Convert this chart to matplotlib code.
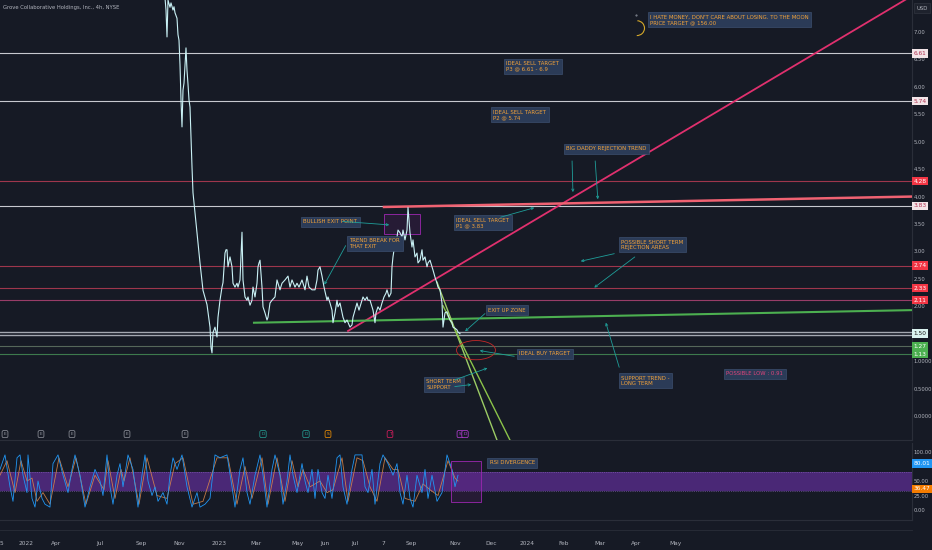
import matplotlib.pyplot as plt
from matplotlib.patches import Rectangle, Ellipse, Arc
from matplotlib.transforms import blended_transform_factory

plt.rcParams['font.family'] = ['Liberation Sans Narrow', 'DejaVu Sans']

# price (bar index -> close)
price_t = [163, 165, 166, 167, 168, 170, 171, 173, 174, 175, 177, 178, 179, 180, 181, 182, 183, 184,
           186, 187, 188, 189, 190, 192, 193, 195, 197, 200, 203, 207, 210, 211, 212, 213, 215, 217,
           218, 220, 222, 223, 225, 226, 227, 228, 230, 232, 233, 235, 237, 238, 240, 242, 243, 245,
           247, 248, 250, 252, 253, 255, 257, 258, 259, 260, 262, 263, 265, 267, 268, 270, 272, 275,
           277, 280, 282, 285, 288, 290, 292, 295, 297, 299, 302, 305, 307, 309, 312, 315, 317, 318,
           320, 322, 324, 327, 328, 330, 332, 333, 335, 337, 338, 340, 342, 343, 345, 347, 350, 352,
           353, 355, 357, 359, 362, 363, 365, 367, 368, 370, 372, 373, 375, 376, 378, 380, 382, 384,
           386, 387, 389, 391, 392, 393, 395, 397, 398, 400, 402, 403, 405, 407, 408, 410, 412, 413,
           415, 417, 418, 420, 422, 423, 425, 427, 428, 430, 432, 433, 435, 437, 438, 440, 442, 443,
           445, 447, 448, 450, 452, 453, 455, 457, 458, 460]
price_v = [7.80, 7.62, 7.40, 6.91, 7.58, 7.45, 7.53, 7.40, 7.46, 7.35, 7.25, 6.95, 6.85, 6.40, 5.76, 5.27, 5.94, 6.07,
           6.71, 6.30, 6.05, 5.76, 5.63, 4.54, 4.07, 3.70, 3.34, 2.79, 2.29, 2.03, 1.62, 1.25, 1.15, 1.52, 1.62, 1.44,
           1.80, 2.11, 2.35, 2.43, 2.97, 3.03, 3.03, 2.72, 2.90, 2.72, 2.42, 2.35, 2.42, 2.35, 2.48, 3.35, 2.48, 2.17,
           2.11, 2.17, 2.02, 2.11, 2.35, 2.17, 2.42, 2.72, 2.79, 2.84, 2.35, 1.99, 1.88, 1.75, 1.80, 2.06, 2.11, 2.17,
           2.48, 2.30, 2.42, 2.48, 2.55, 2.35, 2.48, 2.35, 2.42, 2.35, 2.48, 2.30, 2.55, 2.35, 2.30, 2.30, 2.48, 2.66,
           2.72, 2.55, 2.35, 2.11, 2.17, 2.06, 1.93, 1.70, 1.88, 2.11, 1.99, 2.06, 1.88, 1.80, 1.70, 1.75, 1.62, 1.66,
           1.80, 1.93, 2.06, 1.93, 2.11, 2.17, 2.11, 2.17, 2.11, 2.11, 1.99, 1.93, 1.70, 1.88, 1.99, 1.93, 2.06, 2.17,
           2.24, 2.30, 2.17, 2.24, 2.72, 2.90, 3.15, 3.26, 3.39, 3.34, 3.26, 3.39, 3.21, 3.39, 3.80, 3.34, 3.08, 3.21,
           2.90, 2.97, 2.79, 2.84, 3.03, 2.84, 2.90, 2.72, 2.79, 2.84, 2.72, 2.66, 2.53, 2.42, 2.35, 2.30, 2.06, 1.62,
           1.88, 1.90, 1.84, 1.75, 1.70, 1.62, 1.60, 1.57, 1.53, 1.50]

levels = [6.61, 5.74, 4.28, 3.83, 2.74, 2.33, 2.11, 1.50, 1.27, 1.13]
level_labels = ['6.61', '5.74', '4.28', '3.83', '2.74', '2.33', '2.11', '1.50', '1.27', '1.13']

# drawn trend lines (two anchor points each)
rise_t, rise_v = [348, 912], [1.55, 7.66]
resist_t, resist_v = [384, 912], [3.81, 4.00]
support_t, support_v = [254, 912], [1.70, 1.93]
fall1_t, fall1_v = [437, 497], [2.44, -0.44]
fall2_t, fall2_v = [443, 510], [2.01, -0.44]

price_ticks = [7.0, 6.5, 6.0, 5.5, 5.0, 4.5, 4.0, 3.5, 3.0, 2.5, 2.0, 1.0, 0.5, 0.0]
price_tick_labels = ['7.00', '6.50', '6.00', '5.50', '5.00', '4.50', '4.00', '3.50', '3.00',
                     '2.50', '2.00', '1.0000', '0.5000', '0.0000']

time_ticks = [1, 26, 56, 100, 141, 179, 219, 256, 298, 325, 355, 383, 411, 455, 491, 527, 564, 600, 636, 675]
time_labels = ['5', '2022', 'Apr', 'Jul', 'Sep', 'Nov', '2023', 'Mar', 'May', 'Jun', 'Jul', '7',
               'Sep', 'Nov', 'Dec', '2024', 'Feb', 'Mar', 'Apr', 'May']

# stoch rsi, K and D
k_t = [0, 5, 10, 13, 17, 20, 23, 27, 28, 32, 35, 38, 42, 45, 50, 53, 58, 63, 68, 72, 75, 80, 85, 90,
       95, 100, 103, 107, 110, 113, 117, 120, 123, 128, 133, 138, 142, 145, 148, 152, 155, 158, 163,
       167, 170, 173, 177, 182, 187, 192, 197, 200, 205, 210, 215, 220, 227, 232, 235, 240, 243, 247,
       250, 255, 260, 263, 267, 272, 275, 280, 283, 287, 290, 293, 297, 302, 305, 308, 312, 315, 318,
       322, 325, 328, 332, 337, 340, 343, 347, 352, 355, 362, 365, 368, 372, 375, 380, 383, 388, 393,
       397, 400, 403, 407, 410, 413, 417, 422, 425, 428, 432, 437, 442, 447, 452, 455, 458]
k_v = [70, 95, 40, 15, 90, 95, 60, 30, 95, 20, 5, 50, 20, 10, 5, 80, 95, 60, 30, 70, 95, 60, 5, 40,
       70, 50, 25, 95, 40, 10, 60, 80, 40, 95, 70, 5, 60, 95, 50, 25, 40, 15, 30,
       10, 60, 90, 70, 95, 40, 5, 30, 5, 10, 20, 95, 90, 95, 40, 5, 70, 90, 30,
       10, 60, 95, 60, 5, 70, 95, 60, 10, 50, 95, 60, 30, 80, 50, 30, 70, 20, 70,
       30, 20, 60, 20, 90, 95, 40, 10, 70, 95, 95, 40, 30, 70, 10, 80, 95, 80, 60,
       80, 30, 10, 60, 20, 5, 60, 30, 70, 20, 60, 15, 30, 95, 70, 40, 60]
d_t = [0, 7, 15, 21, 27, 32, 37, 43, 50, 59, 68, 76, 86, 95, 104, 108, 115, 121, 124, 130, 139, 147,
       157, 167, 175, 183, 193, 203, 217, 228, 237, 245, 252, 262, 268, 277, 285, 292, 298, 303, 310,
       320, 327, 333, 342, 348, 357, 363, 370, 377, 385, 393, 398, 405, 415, 423, 430, 438, 448, 455, 458]
d_v = [60, 85, 30, 85, 50, 55, 15, 30, 10, 90, 40, 90, 10, 60, 35, 85, 20, 70, 50, 90, 10, 90,
       25, 20, 80, 90, 10, 15, 90, 90, 10, 75, 20, 90, 10, 90, 15, 85, 40, 70, 40,
       50, 30, 35, 90, 15, 90, 85, 40, 15, 90, 70, 70, 20, 15, 45, 35, 25, 85, 55, 50]
rsi_ticks = [100, 50, 25, 0]
rsi_tick_labels = ['100.00', '50.00', '25.00', '0.00']
k_last, d_last = 80.01, 36.47

# chart event markers (earnings, dividends, splits...)
event_t = [5, 41, 72, 127, 185, 263, 306, 328, 390, 460, 465]
event_kind = ['E', 'E', 'E', 'E', 'E', 'D', 'D', 'S', 'T', 'S', 'D']

bg = '#161a25'
grid = '#2a2e39'
ann_fc = '#2b3b57'
ann_ec = '#43587a'
ann_txt = '#f2a23a'
teal = '#1f9e99'
fs_note = 3.9
fs_axis = 3.8

fig = plt.figure(figsize=(9.32, 5.5), dpi=100, facecolor=bg)
W = 912 / 932
ax = fig.add_axes([0, 1 - 440 / 550, W, 440 / 550], facecolor=bg)
ax2 = fig.add_axes([0, 1 - 520 / 550, W, 77 / 550], facecolor=bg)

ax.set_xlim(0, 912)
ax.set_ylim(-0.4375, 7.583)
ax2.set_xlim(0, 912)
ax2.set_ylim(-17.2, 115.5)

for a in (ax, ax2):
    for s in a.spines.values():
        s.set_visible(False)
    a.spines['right'].set_visible(True)
    a.spines['right'].set_color(grid)
    a.spines['bottom'].set_visible(True)
    a.spines['bottom'].set_color(grid)

ax.set_xticks([])
ax.yaxis.tick_right()
ax.set_yticks(price_ticks, price_tick_labels)
ax.tick_params(axis='y', length=0, pad=1.2, labelsize=fs_axis, labelcolor='#b2b5be')

ax2.yaxis.tick_right()
ax2.set_yticks(rsi_ticks, rsi_tick_labels)
ax2.tick_params(axis='y', length=0, pad=1.2, labelsize=fs_axis, labelcolor='#b2b5be')
ax2.set_xticks(time_ticks, time_labels)
ax2.tick_params(axis='x', length=0, pad=15, labelsize=4.2, labelcolor='#b2b5be')

# horizontal price levels
level_colors = ['#c7c9cf', '#c7c9cf', '#9e364c', '#c7c9cf', '#9e364c', '#9e364c', '#983d68',
                '#a4a8b1', '#55675a', '#3d7a4d']
box_fc = ['#f2e4e7', '#f2e4e7', '#f23645', '#f2e4e7', '#f23645', '#f23645', '#f23645',
          '#d9f2ef', '#4caf50', '#4caf50']
box_tc = ['#b03050', '#b03050', 'white', '#b03050', 'white', 'white', 'white', '#1a1a1a', 'white', 'white']
yt = blended_transform_factory(ax.transAxes, ax.transData)
for i, lv in enumerate(levels):
    if level_labels[i] == '1.50':
        ax.axhline(lv + 0.025, color=level_colors[i], lw=1.0, zorder=2)
        ax.axhline(lv - 0.025, color=level_colors[i], lw=1.0, zorder=2)
    else:
        ax.axhline(lv, color=level_colors[i], lw=0.8, zorder=2)
    ax.text(1.0015, lv, level_labels[i], transform=yt, fontsize=4.2, color=box_tc[i],
            ha='left', va='center', clip_on=False, zorder=10,
            bbox=dict(boxstyle='square,pad=0.3', fc=box_fc[i], ec='none'))

# trend lines
ax.plot(rise_t, rise_v, color='#e0306e', lw=1.3, zorder=3)
ax.plot(resist_t, resist_v, color='#f06272', lw=1.8, zorder=3)
ax.plot(support_t, support_v, color='#4caf50', lw=1.5, zorder=3)
ax.plot(fall1_t, fall1_v, color='#9ccc65', lw=1.0, zorder=3)
ax.plot(fall2_t, fall2_v, color='#8bc34a', lw=1.0, zorder=3)

# price
ax.plot(price_t, price_v, color='#c9f1f5', lw=0.8, zorder=4)

# drawings
ax.add_patch(Rectangle((384, 3.32), 36, 0.36, fc='#9c27b0', alpha=0.12, ec='none', zorder=2))
ax.add_patch(Rectangle((384, 3.32), 36, 0.36, fill=False, ec='#9c27b0', lw=0.6, zorder=2))
ax.add_patch(Ellipse((476, 1.20), 39, 0.35, fill=False, ec='#c62828', lw=0.6, zorder=5))
ax.add_patch(Arc((637, 7.07), 15, 0.27, theta1=-150, theta2=20, color='#d4a82a', lw=0.8))
ax.plot([636], [7.31], marker='.', ms=1, color='#8a8f9a')


def note(t, v, s, color=ann_txt):
    ax.text(t + 2.4, v - 0.044, s, fontsize=fs_note, color=color, ha='left', va='top', linespacing=1.1,
            zorder=6, bbox=dict(boxstyle='square,pad=0.45', fc=ann_fc, ec=ann_ec, lw=0.4))


def arrow(t0, v0, t1, v1):
    ax.annotate('', xy=(t1, v1), xytext=(t0, v0), zorder=6,
                arrowprops=dict(arrowstyle='->', color=teal, lw=0.6, mutation_scale=4))


note(648, 7.36, "I HATE MONEY, DON'T CARE ABOUT LOSING. TO THE MOON\nPRICE TARGET @ 156.00")
note(504, 6.51, 'IDEAL SELL TARGET\nP3 @ 6.61 - 6.9')
note(491, 5.63, 'IDEAL SELL TARGET\nP2 @ 5.74')
note(564, 4.96, 'BIG DADDY REJECTION TREND')
note(454, 3.66, 'IDEAL SELL TARGET\nP1 @ 3.83')
note(301, 3.63, 'BULLISH EXIT POINT')
note(347, 3.28, 'TREND BREAK FOR\nTHAT EXIT')
note(486, 2.02, 'EXIT UP ZONE')
note(517, 1.22, 'IDEAL BUY TARGET')
note(424, 0.71, 'SHORT TERM\nSUPPORT')
note(619, 3.26, 'POSSIBLE SHORT TERM\nREJECTION AREAS')
note(619, 0.78, 'SUPPORT TREND -\nLONG TERM')
note(724, 0.86, 'POSSIBLE LOW : 0.91', color='#e0457b')

arrow(572, 4.70, 573, 4.03)
arrow(595, 4.70, 598, 3.90)
arrow(498, 3.61, 537, 3.81)
arrow(340, 3.55, 392, 3.48)
arrow(347, 3.15, 323, 2.35)
arrow(487, 1.90, 463, 1.51)
arrow(517, 1.08, 477, 1.20)
arrow(452, 0.64, 490, 0.89)
arrow(452, 0.53, 474, 0.58)
arrow(620, 0.84, 605, 1.75)
arrow(617, 2.97, 578, 2.81)
arrow(637, 2.93, 592, 2.31)

ax.text(3, 7.45, 'Grove Collaborative Holdings, Inc., 4h, NYSE', fontsize=3.8, color='#b2b5be',
        ha='left', va='center')
fig.text(922 / 932, 1 - 8 / 550, 'USD', fontsize=fs_axis, color='#b2b5be', ha='center', va='center',
         bbox=dict(boxstyle='square,pad=0.4', fc='#1e222d', ec='#363a45', lw=0.4))

# event markers
kind_style = {'E': ('E', '#9598a1'), 'D': ('D', '#26a69a'), 'S': ('S', '#ff9800'), 'T': ('T', '#e91e63')}
for i, t in enumerate(event_t):
    g, c = kind_style[event_kind[i]]
    if t > 455:
        c = '#c040e0'
    ax.text(t, -0.33, g, fontsize=3.2, color=c, ha='center', va='center', zorder=6,
            bbox=dict(boxstyle='round,pad=0.35', fc=bg, ec=c, lw=0.5))

# rsi pane
ax2.axhspan(33, 66, color='#4a2876', lw=0, zorder=1)
ax2.axhline(66, color='#8e6cc0', lw=0.5, ls=':', zorder=1)
ax2.axhline(33, color='#8e6cc0', lw=0.5, ls=':', zorder=1)
ax2.plot(d_t, d_v, color='#e08a4a', lw=0.6, alpha=0.85, zorder=3)
ax2.plot(k_t, k_v, color='#2196f3', lw=0.6, zorder=4)
ax2.add_patch(Rectangle((451, 13.8), 30, 70.7, fc='#9c27b0', alpha=0.12, ec='none', zorder=2))
ax2.add_patch(Rectangle((451, 13.8), 30, 70.7, fill=False, ec='#9c27b0', lw=0.6, zorder=5))
ax2.text(489.5, 85.6, 'RSI DIVERGENCE', fontsize=fs_note, color=ann_txt, ha='left', va='top', zorder=6,
         bbox=dict(boxstyle='square,pad=0.45', fc=ann_fc, ec=ann_ec, lw=0.4))
yt2 = blended_transform_factory(ax2.transAxes, ax2.transData)
ax2.text(1.0015, k_last, '%.2f' % k_last, transform=yt2, fontsize=4.2, color='white', ha='left',
         va='center', clip_on=False, zorder=10, bbox=dict(boxstyle='square,pad=0.3', fc='#2196f3', ec='none'))
ax2.text(1.0015, d_last, '%.2f' % d_last, transform=yt2, fontsize=4.2, color='white', ha='left',
         va='center', clip_on=False, zorder=10, bbox=dict(boxstyle='square,pad=0.3', fc='#f57c00', ec='none'))

fig.add_artist(plt.Line2D([0, W], [1 - 530 / 550, 1 - 530 / 550], color=grid, lw=0.6))

fig.savefig('out.png', dpi=100, facecolor=bg)
